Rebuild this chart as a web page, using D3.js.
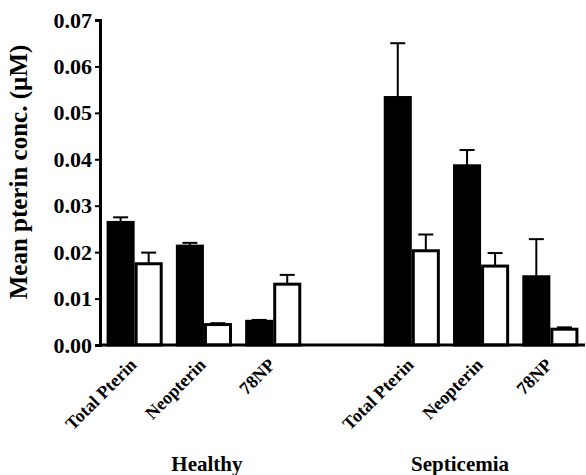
<!DOCTYPE html>
<html>
<head>
<meta charset="utf-8">
<script src="https://cdn.jsdelivr.net/npm/d3@7"></script>
<style>
  html, body { margin: 0; padding: 0; background: #fff; }
</style>
</head>
<body>
<svg id="chart" width="586" height="475"></svg>
<script>
// ---- data ----
const slots = ["H-TP", "H-N", "H-78", "gap", "S-TP", "S-N", "S-78"];
const categories = ["Total Pterin", "Neopterin", "78NP", "Total Pterin", "Neopterin", "78NP"];
const categorySlots = ["H-TP", "H-N", "H-78", "S-TP", "S-N", "S-78"];
const blackMeans = [0.0264, 0.0213, 0.0051, 0.0533, 0.0386, 0.0147];
const blackErrors = [0.0011, 0.0007, 0.0003, 0.0117, 0.0034, 0.0081];
const whiteMeans = [0.0175, 0.0044, 0.0131, 0.0203, 0.0170, 0.0034];
const whiteErrors = [0.0024, 0.0003, 0.0020, 0.0035, 0.0028, 0.0004];
const groups = ["Healthy", "Septicemia"];
const groupCenterSlots = ["H-N", "S-N"];
const yTicks = [0, 0.01, 0.02, 0.03, 0.04, 0.05, 0.06, 0.07];
const yTitle = "Mean pterin conc. (\u00b5M)";

const FONT = "'Liberation Serif', 'Times New Roman', 'DejaVu Serif', serif";

const svg = d3.select("#chart");
const axisY0 = 345, axisYTop = 20, axisX0 = 100, axisX1 = 585;

const y = d3.scaleLinear().domain([0, 0.07]).range([axisY0, axisYTop]);
const x = d3.scaleBand().domain(slots).range([axisX0, axisX1]).paddingInner(0.19).paddingOuter(0.095);
const sub = d3.scaleBand().domain(["black", "white"]).range([0, x.bandwidth()]);

const rows = categorySlots.map((s, i) => ({
  slot: s, cat: categories[i],
  bars: [
    { key: "black", mean: blackMeans[i], err: blackErrors[i] },
    { key: "white", mean: whiteMeans[i], err: whiteErrors[i] }
  ]
}));

const sw = 3;
const gBars = svg.append("g");
rows.forEach(r => {
  r.bars.forEach(b => {
    const x0 = x(r.slot) + sub(b.key);
    const cx = x0 + sub.bandwidth() / 2;
    gBars.append("line")
      .attr("x1", cx).attr("x2", cx)
      .attr("y1", y(b.mean)).attr("y2", y(b.mean + b.err))
      .attr("stroke", "#000").attr("stroke-width", 2);
    gBars.append("line")
      .attr("x1", cx - 7.5).attr("x2", cx + 7.5)
      .attr("y1", y(b.mean + b.err)).attr("y2", y(b.mean + b.err))
      .attr("stroke", "#000").attr("stroke-width", 2);
    gBars.append("rect")
      .attr("x", x0 + sw / 2)
      .attr("y", y(b.mean))
      .attr("width", sub.bandwidth() - sw)
      .attr("height", y(0) - y(b.mean))
      .attr("fill", b.key === "black" ? "#000" : "#fff")
      .attr("stroke", "#000").attr("stroke-width", sw);
  });
});

// y axis
const yAxis = d3.axisLeft(y).tickValues(yTicks).tickFormat(d3.format(".2f")).tickSizeOuter(0).tickSize(5).tickPadding(3);
const gy = svg.append("g").attr("transform", `translate(${axisX0},0)`).call(yAxis);
gy.attr("font-family", null).attr("font-size", null);
gy.select(".domain").attr("stroke", "#000").attr("stroke-width", 3);
gy.selectAll(".tick line").attr("stroke", "#000").attr("stroke-width", 2);
gy.selectAll(".tick text")
  .style("font-family", FONT).style("font-weight", "bold").style("font-size", "22px")
  .attr("fill", "#000");

// x axis baseline
svg.append("line").attr("x1", axisX0).attr("x2", axisX1).attr("y1", axisY0).attr("y2", axisY0)
  .attr("stroke", "#000").attr("stroke-width", 3);

// category labels
rows.forEach(r => {
  const cx = x(r.slot) + x.bandwidth() / 2 + 3;
  svg.append("text")
    .attr("transform", `translate(${cx},${axisY0 + 21}) rotate(-45)`)
    .attr("text-anchor", "end")
    .style("font-family", FONT).style("font-weight", "bold").style("font-size", "18px")
    .text(r.cat);
});

// group labels
groups.forEach((g, i) => {
  svg.append("text")
    .attr("x", x(groupCenterSlots[i]) + x.bandwidth() / 2 + (i === 1 ? -21 : 3))
    .attr("y", 471)
    .attr("text-anchor", "middle")
    .style("font-family", FONT).style("font-weight", "bold").style("font-size", "21px")
    .text(g);
});

// y title
svg.append("text")
  .attr("transform", `translate(27,172) rotate(-90)`)
  .attr("text-anchor", "middle")
  .style("font-family", FONT).style("font-weight", "bold").style("font-size", "25px")
  .text(yTitle);
</script>
</body>
</html>
